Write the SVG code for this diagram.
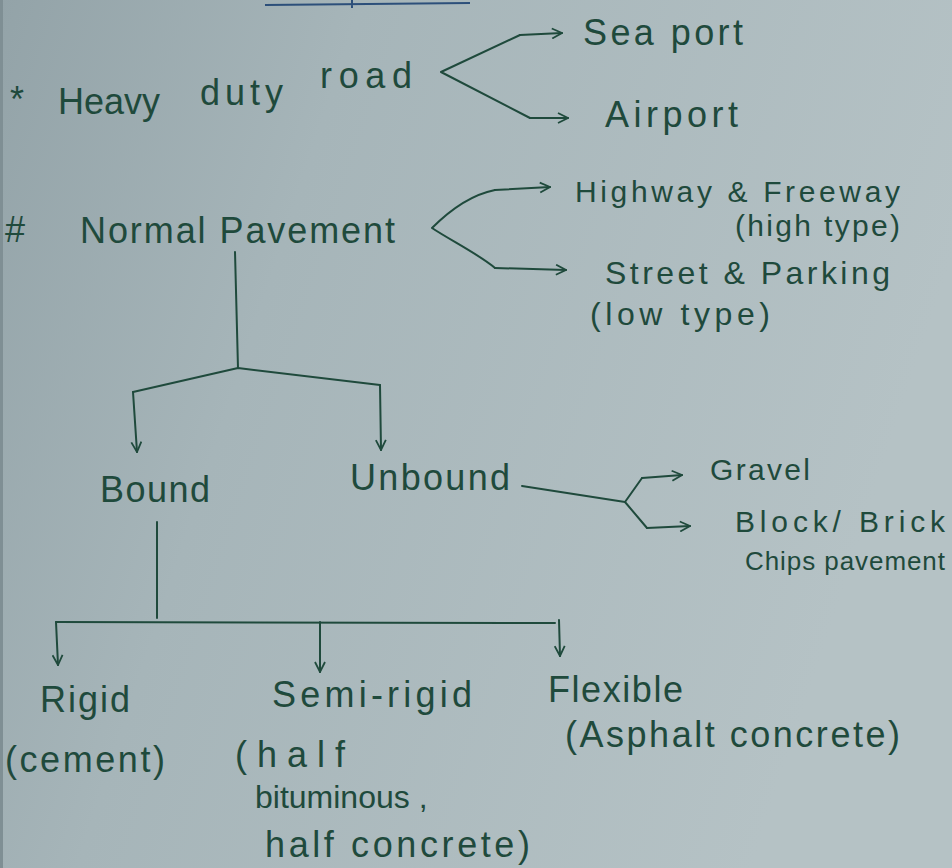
<svg xmlns="http://www.w3.org/2000/svg" width="952" height="868" viewBox="0 0 952 868">
<defs>
<linearGradient id="paper" x1="0" y1="0" x2="1" y2="0.3">
<stop offset="0" stop-color="#93a3a8"/>
<stop offset="0.35" stop-color="#a6b5b9"/>
<stop offset="1" stop-color="#b5c2c5"/>
</linearGradient>
<marker id="arr" viewBox="0 0 12 12" refX="11" refY="6" markerWidth="12" markerHeight="12" markerUnits="userSpaceOnUse" orient="auto">
<path d="M1,1 L11,6 L1,11" fill="none" stroke="#1f4a3c" stroke-width="1.8"/>
</marker>
<style>
.t{font-family:"Liberation Sans","DejaVu Sans",sans-serif;font-size:36px;fill:#1f4a3c;}
.s{font-size:30px;}
.m{font-size:32px;}
.c{fill:none;stroke:#1f4a3c;stroke-width:2;stroke-linecap:round;stroke-linejoin:round;}
</style>
</defs>
<rect width="952" height="868" fill="url(#paper)"/>
<line x1="0" y1="0" x2="0" y2="868" stroke="#7f8f94" stroke-width="6"/>
<path d="M265,5 L470,3 M352,0 L352,8" stroke="#2c4f7a" stroke-width="2" fill="none"/>

<g id="heavy-duty-road">
<text class="t" x="10" y="112">*</text>
<text class="t" x="58" y="114">Heavy</text>
<text class="t" x="200" y="105" textLength="83">duty</text>
<text class="t" x="320" y="88" textLength="92">road</text>
</g>
<g id="sea-port"><text class="t" x="583" y="45" textLength="160">Sea port</text></g>
<g id="airport"><text class="t" x="605" y="127" textLength="133">Airport</text></g>

<g id="normal-pavement">
<text class="t" x="5" y="242">#</text>
<text class="t" x="80" y="243" textLength="315">Normal Pavement</text>
</g>
<g id="highway">
<text class="t s" x="575" y="202" textLength="325">Highway &amp; Freeway</text>
<text class="t s" x="735" y="236" textLength="165">(high type)</text>
</g>
<g id="street">
<text class="t m" x="605" y="284" textLength="285">Street &amp; Parking</text>
<text class="t m" x="590" y="325" textLength="180">(low type)</text>
</g>

<g id="bound"><text class="t" x="100" y="502" textLength="110">Bound</text></g>
<g id="unbound"><text class="t" x="350" y="490" textLength="160">Unbound</text></g>
<g id="gravel"><text class="t s" x="710" y="480" textLength="100">Gravel</text></g>
<g id="block-brick">
<text class="t s" x="735" y="532" textLength="210">Block/ Brick</text>
<text class="t" x="745" y="570" textLength="200" style="font-size:26px">Chips pavement</text>
</g>

<g id="rigid">
<text class="t" x="40" y="712" textLength="90">Rigid</text>
<text class="t" x="5" y="772" textLength="160">(cement)</text>
</g>
<g id="semi-rigid">
<text class="t" x="272" y="707" textLength="200">Semi-rigid</text>
<text class="t" x="235" y="767" textLength="110">(half</text>
<text class="t m" x="255" y="808">bituminous ,</text>
<text class="t" x="265" y="857" textLength="265">half concrete)</text>
</g>
<g id="flexible">
<text class="t" x="548" y="702" textLength="135">Flexible</text>
<text class="t" x="565" y="747" textLength="335">(Asphalt concrete)</text>
</g>

<g id="connectors">
<path class="c" d="M520,35 L441,72 L530,118" />
<path class="c" d="M520,35 L562,33" marker-end="url(#arr)"/>
<path class="c" d="M530,118 L568,118" marker-end="url(#arr)"/>
<path class="c" d="M495,190 C470,195 450,210 432,228 C450,240 480,255 495,268"/>
<path class="c" d="M495,190 L550,187" marker-end="url(#arr)"/>
<path class="c" d="M495,268 L566,270" marker-end="url(#arr)"/>
<path class="c" d="M235,252 L238,368"/>
<path class="c" d="M133,392 L238,368 L380,385"/>
<path class="c" d="M133,392 L137,452" marker-end="url(#arr)"/>
<path class="c" d="M380,385 L381,450" marker-end="url(#arr)"/>
<path class="c" d="M522,486 L625,502"/>
<path class="c" d="M642,478 L625,502 L647,528"/>
<path class="c" d="M642,478 L682,475" marker-end="url(#arr)"/>
<path class="c" d="M647,528 L690,526" marker-end="url(#arr)"/>
<path class="c" d="M157,522 L157,618"/>
<path class="c" d="M56,622 L555,623"/>
<path class="c" d="M56,622 L58,665" marker-end="url(#arr)"/>
<path class="c" d="M320,622 L320,672" marker-end="url(#arr)"/>
<path class="c" d="M559,620 L560,656" marker-end="url(#arr)"/>
</g>
</svg>
